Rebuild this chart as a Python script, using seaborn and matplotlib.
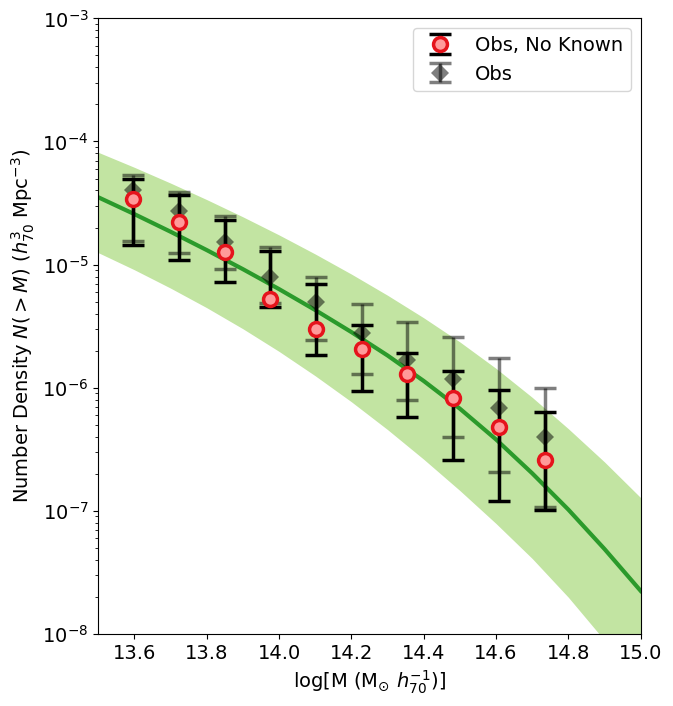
import numpy as np
import matplotlib
matplotlib.use("Agg")
import matplotlib.pyplot as plt
import seaborn as sns

# model curve + band, log10 values
model_x = [13.5, 13.6, 13.7, 13.8, 13.9, 14.0, 14.1, 14.2, 14.3, 14.4, 14.5, 14.6, 14.7, 14.8, 14.9, 15.0]
model_log = [-4.453, -4.590, -4.733, -4.882, -5.037, -5.199, -5.369, -5.548,
             -5.738, -5.945, -6.170, -6.420, -6.695, -6.990, -7.310, -7.650]
band_hi_log = [-4.088, -4.210, -4.338, -4.472, -4.612, -4.759, -4.914, -5.077,
               -5.249, -5.432, -5.628, -5.843, -6.078, -6.333, -6.603, -6.893]
band_lo_log = [-4.903, -5.042, -5.191, -5.350, -5.521, -5.705, -5.903, -6.114,
               -6.340, -6.581, -6.835, -7.103, -7.387, -7.702, -8.052, -8.460]

# bin centres
mass_bins = [13.597, 13.724, 13.85, 13.976, 14.103, 14.229, 14.355, 14.482, 14.608, 14.734]

# Obs, No Known
nk_y = [3.4e-5, 2.2e-5, 1.26e-5, 5.3e-6, 3.0e-6, 2.06e-6, 1.29e-6, 8.2e-7, 4.8e-7, 2.6e-7]
nk_top = [5.0e-5, 3.66e-5, 2.29e-5, 1.29e-5, 6.9e-6, 3.22e-6, 1.91e-6, 1.36e-6, 9.6e-7, 6.3e-7]
nk_bot = [1.44e-5, 1.09e-5, 7.2e-6, 4.5e-6, 1.84e-6, 9.4e-7, 5.8e-7, 2.6e-7, 1.2e-7, 1.01e-7]

# Obs
obs_y = [4.0e-5, 2.7e-5, 1.52e-5, 8.0e-6, 4.95e-6, 2.77e-6, 1.67e-6, 1.17e-6, 6.8e-7, 4.0e-7]
obs_top = [5.3e-5, 3.87e-5, 2.47e-5, 1.38e-5, 7.9e-6, 4.77e-6, 3.4e-6, 2.58e-6, 1.74e-6, 9.9e-7]
obs_bot = [1.55e-5, 1.24e-5, 9.2e-6, 4.9e-6, 2.43e-6, 1.29e-6, 7.9e-7, 4.0e-7, 2.07e-7, 1.07e-7]

fig = plt.figure(figsize=(6.73, 7.06), dpi=100)
ax = fig.add_axes([0.146, 0.102, 0.806, 0.872])

ax.fill_between(model_x, 10 ** np.array(band_lo_log), 10 ** np.array(band_hi_log),
                color='#c2e4a2', lw=0, zorder=1)
sns.lineplot(x=model_x, y=10 ** np.array(model_log), ax=ax, color='#2b9a2b', lw=3, zorder=2)

obs_err = [np.array(obs_y) - np.array(obs_bot), np.array(obs_top) - np.array(obs_y)]
h_obs = ax.errorbar(mass_bins, obs_y, yerr=obs_err, fmt='D', color='k', ms=9,
                    elinewidth=2.5, capsize=8, capthick=2.5, alpha=0.5, zorder=3, label='Obs')
# diamond without outline (outline doubles up under alpha)
h_obs[0].set_markeredgewidth(0)

nk_err = [np.array(nk_y) - np.array(nk_bot), np.array(nk_top) - np.array(nk_y)]
h_nk = ax.errorbar(mass_bins, nk_y, yerr=nk_err, fmt='o', color='k', ecolor='k',
                   mfc='#ff9a9a', mec='#e5141c', mew=2.5, ms=10,
                   elinewidth=2.5, capsize=8, capthick=2.5, zorder=4, label='Obs, No Known')

ax.set_yscale('log')
ax.set_xlim(13.5, 15.0)
ax.set_ylim(1e-8, 1e-3)
ax.set_xticks([13.6, 13.8, 14.0, 14.2, 14.4, 14.6, 14.8, 15.0])
ax.tick_params(labelsize=14)
ax.set_xlabel(r'log[M (M$_{\odot}$ $h_{70}^{-1}$)]', fontsize=14)
ax.set_ylabel(r'Number Density $N(>M)$ ($h_{70}^{3}$ Mpc$^{-3}$)', fontsize=14)

ax.legend([h_nk, h_obs], ['Obs, No Known', 'Obs'], loc='upper right', fontsize=14)

fig.savefig('out.png', dpi=100)
